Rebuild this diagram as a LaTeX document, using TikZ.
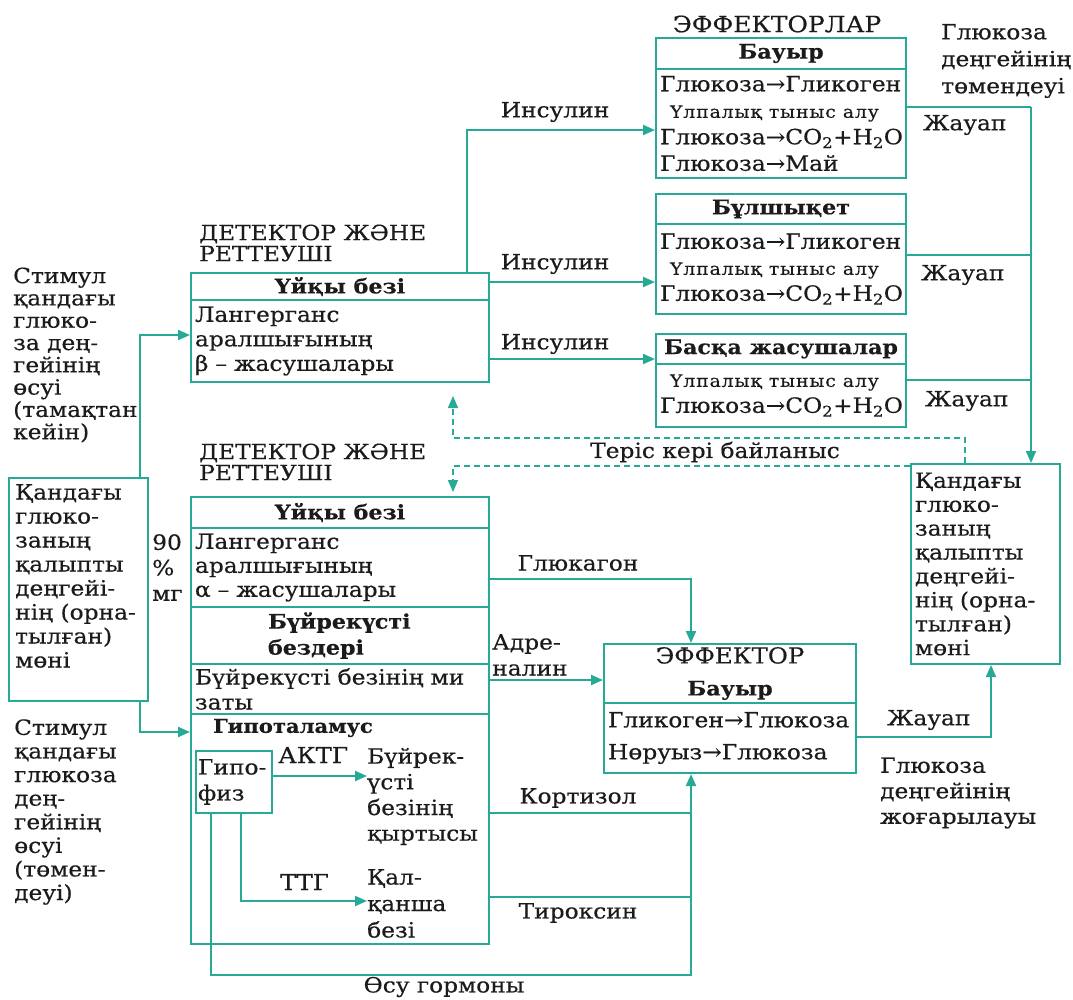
\documentclass[tikz,border=0pt]{standalone}
\usepackage{fontspec}
\setmainfont{DejaVu Serif}[FakeStretch=1.11,FakeBold=0.4]
\usepackage{xcolor}
\usetikzlibrary{arrows.meta}
\definecolor{tealline}{RGB}{38,170,150}
\definecolor{ink}{RGB}{28,26,27}
\newcommand{\txtsize}[1]{\fontsize{21}{#1}\selectfont}
\newcommand{\capsize}[2]{\fontsize{#1}{#2}\selectfont}
\newcommand{\boldsize}[1]{\bfseries\fontsize{20}{#1}\selectfont}
\newcommand{\tiss}{{\fontsize{17}{20}\selectfont\addfontfeature{LetterSpace=5}Үлпалық тыныс алу}}

\begin{document}
\begin{tikzpicture}[x=1pt,y=-1pt,>={Triangle[length=12pt,width=10pt]},
  box/.style={draw=tealline,line width=2pt,inner sep=4pt,text=ink,anchor=north west},
  hbox/.style={box,align=center,font=\boldsize{22}},
  bbox/.style={box,align=left},
  lbl/.style={inner sep=0pt,text=ink,align=left,font=\txtsize{22.5}},
  wire/.style={draw=tealline,line width=2pt},
  arr/.style={wire,->},
  fb/.style={draw=tealline,line width=1.5pt,dash pattern=on 6pt off 4pt,->}]

\useasboundingbox (0,0) rectangle (1073,999);

% Effectors (insulin side)
\node[lbl,font=\capsize{22.5}{24}] (effT) at (777,24) {ЭФФЕКТОРЛАР};
\node[hbox,minimum width=250pt,minimum height=31pt] (liverH) at (655,37) {Бауыр};
\node[bbox,text width=242pt,minimum height=109pt,font=\txtsize{26.5}] (liverB) at (655,68)
  {Глюкоза→Гликоген\\\hspace*{10pt}\tiss\\Глюкоза→CO\textsubscript{2}+H\textsubscript{2}O\\Глюкоза→Май};
\node[hbox,minimum width=250pt,minimum height=30pt] (musH) at (655,193) {Бұлшықет};
\node[bbox,text width=242pt,minimum height=90pt,font=\txtsize{26}] (musB) at (655,223)
  {Глюкоза→Гликоген\\\hspace*{10pt}\tiss\\Глюкоза→CO\textsubscript{2}+H\textsubscript{2}O};
\node[hbox,minimum width=250pt,minimum height=30pt] (othH) at (655,333) {Басқа жасушалар};
\node[bbox,text width=242pt,minimum height=63pt,font=\txtsize{26}] (othB) at (655,363)
  {\hspace*{10pt}\tiss\\Глюкоза→CO\textsubscript{2}+H\textsubscript{2}O};

\node[lbl,anchor=west,font=\txtsize{27}] (lowL) at (941,61) {Глюкоза\\деңгейінің\\төмендеуі};
\node[lbl,anchor=west] (resp1) at (923,125) {Жауап};
\node[lbl,anchor=west] (resp2) at (921,275) {Жауап};
\node[lbl,anchor=west] (resp3) at (925,401) {Жауап};

% Detector and regulator (insulin)
\node[lbl,anchor=west,font=\capsize{21}{21}] (det1) at (199,243) {ДЕТЕКТОР ЖӘНЕ\\РЕТТЕУШІ};
\node[hbox,minimum width=298pt,minimum height=27pt] (pan1H) at (190,272) {Үйқы безі};
\node[bbox,text width=290pt,minimum height=82pt,font=\txtsize{24.5}] (pan1B) at (190,299)
  {Лангерганс\\аралшығының\\β – жасушалары};

\node[lbl] (ins1) at (555,112) {Инсулин};
\node[lbl] (ins2) at (555,264) {Инсулин};
\node[lbl] (ins3) at (555,344) {Инсулин};

% Stimuli and set point
\node[lbl,anchor=west,font=\txtsize{22.3}] (stim1) at (13,355)
  {Стимул\\қандағы\\глюко-\\за дең-\\гейінің\\өсуі\\(тамақтан\\кейін)};
\node[box,minimum width=139pt,minimum height=223pt] (norm1) at (8,477) {};
\node[lbl,anchor=west,font=\txtsize{24}] (norm1t) at (15,576)
  {Қандағы\\глюко-\\заның\\қалыпты\\деңгейі-\\нің (орна-\\тылған)\\мөні};
\node[lbl,anchor=west,font=\txtsize{25.5}] (pct) at (152,567.5) {90\\\%\\мг};
\node[lbl,anchor=west,font=\txtsize{23.6}] (stim2) at (14,812)
  {Стимул\\қандағы\\глюкоза\\дең-\\гейінің\\өсуі\\(төмен-\\деуі)};

% Detector and regulator (glucagon)
\node[lbl,anchor=west,font=\capsize{21}{21}] (det2) at (199,462) {ДЕТЕКТОР ЖӘНЕ\\РЕТТЕУШІ};
\node[hbox,minimum width=298pt,minimum height=31pt] (pan2H) at (190,496) {Үйқы безі};
\node[bbox,text width=290pt,minimum height=79pt,font=\txtsize{24}] (pan2B) at (190,527)
  {Лангерганс\\аралшығының\\α – жасушалары};
\node[bbox,text width=290pt,minimum height=57pt,font=\boldsize{26}] (adrH) at (190,606)
  {\hspace*{73pt}Бүйрекүсті\\\hspace*{73pt}бездері};
\node[bbox,text width=290pt,minimum height=50pt,font=\txtsize{25}] (adrB) at (190,663)
  {Бүйрекүсті безінің ми\\заты};
\node[box,minimum width=298pt,minimum height=230pt] (hypo) at (190,713) {};
\node[lbl,anchor=west,font=\bfseries\capsize{19}{22}] (hypoT) at (213,728) {Гипоталамус};
\node[bbox,inner xsep=2pt,text width=72pt,minimum height=62pt,font=\txtsize{26}] (pit) at (195,750) {Гипо-\\физ};
\node[lbl,anchor=west,font=\capsize{22}{24}] (actg) at (278,755) {АКТГ};
\node[lbl,anchor=west,font=\txtsize{25.7}] (cortex) at (367,796.5) {Бүйрек-\\үсті\\безінің\\қыртысы};
\node[lbl,anchor=west,font=\capsize{22}{24}] (ttg) at (280,882) {ТТГ};
\node[lbl,anchor=west,font=\txtsize{26.5}] (thyr) at (367,903.5) {Қал-\\қанша\\безі};

% Effector (glucagon side)
\node[box,inner ysep=2pt,minimum width=252pt,minimum height=59pt,align=center,font=\capsize{22}{32}] (effH) at (603,643)
  {ЭФФЕКТОР\\\boldsize{32}Бауыр};
\node[bbox,text width=244pt,minimum height=70pt,font=\txtsize{32}] (effB) at (603,702)
  {Гликоген→Глюкоза\\Нөруыз→Глюкоза};
\node[bbox,text width=141pt,minimum height=200pt,font=\txtsize{23.9}] (norm2) at (910,463)
  {Қандағы\\глюко-\\заның\\қалыпты\\деңгейі-\\нің (орна-\\тылған)\\мөні};

\node[lbl] (glc) at (578,563) {Глюкагон};
\node[lbl,anchor=west,font=\txtsize{26}] (adr) at (492,655) {Адре-\\налин};
\node[lbl] (cort) at (578,798) {Кортизол};
\node[lbl] (thx) at (578,913) {Тироксин};
\node[lbl] (grow) at (444,987) {Өсу гормоны};
\node[lbl,anchor=west] (resp4) at (887,720) {Жауап};
\node[lbl,anchor=west,font=\txtsize{25.5}] (highL) at (880,793) {Глюкоза\\деңгейінің\\жоғарылауы};
\node[lbl] (fbT) at (715,452) {Теріс кері байланыс};

% Bend points
\coordinate (insA) at (467,130);
\coordinate (insB) at (488,282);
\coordinate (insC) at (488,359);
\coordinate (rsp1) at (1031,107);
\coordinate (rsp2) at (1031,255);
\coordinate (rsp3) at (1031,380);
\coordinate (fbA) at (965,438);
\coordinate (fbB) at (453,466);
\coordinate (stA) at (140,335);
\coordinate (stB) at (140,732);
\coordinate (gluY) at (691,579);
\coordinate (adrY) at (540,680);
\coordinate (cortY) at (691,813);
\coordinate (thxY) at (691,897);
\coordinate (ghX) at (211,975);
\coordinate (ghC) at (691,975);
\coordinate (actgY) at (300,776);
\coordinate (ttgY) at (241,901);
\coordinate (rsp4) at (991,737);

% Insulin
\draw[arr] (pan1H.north -| insA) |- (liverB.west |- insA);
\draw[arr] (pan1H.east |- insB) -- (musB.west |- insB);
\draw[arr] (pan1H.east |- insC) -- (othH.west |- insC);

% Responses
\draw[wire] (liverB.east |- rsp1) -- (rsp1);
\draw[wire] (musB.east |- rsp2) -- (rsp2);
\draw[wire] (othB.east |- rsp3) -- (rsp3);
\draw[arr] (rsp1) -- (norm2.north -| rsp1);

% Negative feedback
\draw[fb,shorten >=13pt] (norm2.north -| fbA) |- (fbA -| fbB) -- (pan1B.south -| fbB);
\draw[fb,shorten >=4pt] (norm2.west |- fbB) -- (fbB) -- (pan2H.north -| fbB);

% Stimuli
\draw[arr] (norm1.north -| stA) |- (pan1B.west |- stA);
\draw[arr] (norm1.south -| stB) |- (hypo.west |- stB);

% Hormones to the liver
\draw[arr] (pan2B.east |- gluY) -| (effH.north -| gluY);
\draw[arr] (adrB.east |- adrY) -- (effH.west |- adrY);
\draw[wire] (hypo.east |- cortY) -- (cortY);
\draw[wire] (hypo.east |- thxY) -- (thxY);
\draw[arr] (pit.south -| ghX) |- (ghC) -- (effB.south -| ghC);
\draw[arr] (pit.east |- actgY) -- (cortex.west |- actgY);
\draw[arr] (pit.south -| ttgY) |- (thyr.west |- ttgY);
\draw[arr] (effB.east |- rsp4) -| (norm2.south -| rsp4);

\end{tikzpicture}
\end{document}
